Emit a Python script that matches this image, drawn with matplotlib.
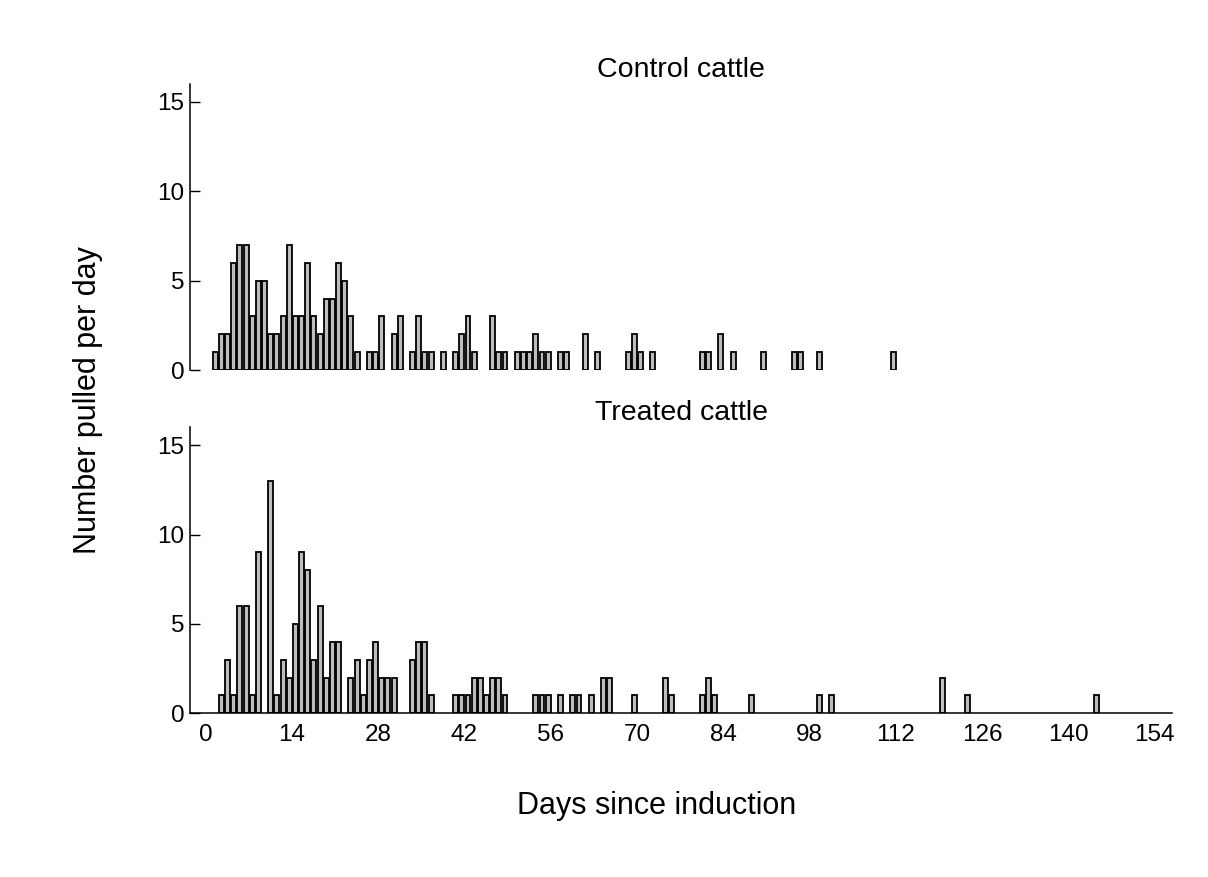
import matplotlib
matplotlib.use("Agg")
import matplotlib.pyplot as plt

plt.rcParams['font.family'] = ['Liberation Sans', 'DejaVu Sans']

# daily counts of cattle pulled, control group
ctrl_days = [2, 3, 4, 5, 6, 7, 8, 9, 10, 11, 12, 13, 14, 15, 16, 17, 18, 19, 20, 21,
             22, 23, 24, 25, 27, 28, 29, 31, 32, 34, 35, 36, 37, 39, 41, 42, 43, 44,
             47, 48, 49, 51, 52, 53, 54, 55, 56, 58, 59, 62, 64, 69, 70, 71, 73, 81,
             82, 84, 86, 91, 96, 97, 100, 112]
ctrl_counts = [1, 2, 2, 6, 7, 7, 3, 5, 5, 2, 2, 3, 7, 3, 3, 6, 3, 2, 4, 4,
               6, 5, 3, 1, 1, 1, 3, 2, 3, 1, 3, 1, 1, 1, 1, 2, 3, 1,
               3, 1, 1, 1, 1, 1, 2, 1, 1, 1, 1, 2, 1, 1, 2, 1, 1, 1,
               1, 2, 1, 1, 1, 1, 1, 1]

# daily counts of cattle pulled, treated group
trt_days = [3, 4, 5, 6, 7, 8, 9, 11, 12, 13, 14, 15, 16, 17, 18, 19, 20, 21, 22,
            24, 25, 26, 27, 28, 29, 30, 31, 34, 35, 36, 37, 41, 42, 43, 44, 45, 46,
            47, 48, 49, 54, 55, 56, 58, 60, 61, 63, 65, 66, 70, 75, 76, 81, 82, 83,
            89, 100, 102, 120, 124, 145]
trt_counts = [1, 3, 1, 6, 6, 1, 9, 13, 1, 3, 2, 5, 9, 8, 3, 6, 2, 4, 4,
              2, 3, 1, 3, 4, 2, 2, 2, 3, 4, 4, 1, 1, 1, 1, 2, 2, 1,
              2, 2, 1, 1, 1, 1, 1, 1, 1, 1, 2, 2, 1, 2, 1, 1, 2, 1,
              1, 1, 1, 2, 1, 1]

x_ticks = list(range(0, 155, 14))
y_ticks = [0, 5, 10, 15]

fig = plt.figure(figsize=(12.08, 8.77), dpi=100)
ax1 = fig.add_axes([0.1573, 0.5781, 0.8129, 0.3261])
ax2 = fig.add_axes([0.1573, 0.1867, 0.8129, 0.3261])

for ax, days, counts, title in [(ax1, ctrl_days, ctrl_counts, 'Control cattle'),
                                (ax2, trt_days, trt_counts, 'Treated cattle')]:
    ax.bar(days, counts, width=-0.8, align='edge', color='#bdbdbd',
           edgecolor='black', linewidth=1.3)
    ax.set_xlim(-2.5, 156.8)
    ax.set_ylim(0, 16)
    ax.set_yticks(y_ticks)
    ax.tick_params(axis='y', direction='in', length=7.5, width=1.0,
                   pad=4, labelsize=17.5)
    ax.spines['top'].set_visible(False)
    ax.spines['right'].set_visible(False)
    ax.spines['left'].set_linewidth(1.1)
    ax.spines['bottom'].set_linewidth(1.1)
    ax.set_title(title, fontsize=20.5, pad=5)

ax1.spines['bottom'].set_visible(False)
ax1.set_xticks([])

ax2.set_xticks(x_ticks)
ax2.tick_params(axis='x', length=0, pad=8, labelsize=17.5)

fig.text(0.5439, 0.081, 'Days since induction', fontsize=22,
         ha='center', va='center')
fig.text(0.073, 0.544, 'Number pulled per day', rotation=90,
         fontsize=22, ha='center', va='center')

fig.savefig('out.png', dpi=100)
